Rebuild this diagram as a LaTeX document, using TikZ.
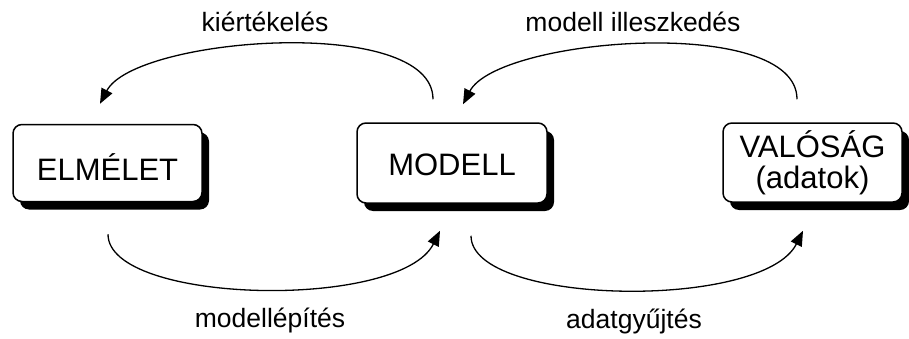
\documentclass[tikz,border=0pt]{standalone}
\usepackage{fontspec}
\setmainfont{Liberation Sans}
\usetikzlibrary{arrows.meta,shadows}

\tikzset{
  box/.style={draw=black, line width=1.5pt, fill=white, rounded corners=9pt,
    inner sep=0pt,
    font=\fontsize{31}{31}\selectfont,
    drop shadow={shadow xshift=7pt, shadow yshift=-8pt, fill=black, opacity=1}},
  flow/.style={line width=1.3pt, -{Triangle[length=15pt,width=12pt]}},
  lbl/.style={font=\fontsize{26.5}{30}\selectfont, anchor=base, inner sep=0pt}
}

\begin{document}
\begin{tikzpicture}[x=1pt, y=1pt]
  \useasboundingbox (0,0) rectangle (909,338);

  % the three stages
  \node[box, minimum width=189pt, minimum height=77pt,
        text height=34pt, text depth=0pt] (E) at (107.5,175) {ELMÉLET};
  \node[box, minimum width=190pt, minimum height=80pt,
        text height=24pt, text depth=0pt] (M) at (452,175) {MODELL};
  \node[box, minimum width=179pt, minimum height=79pt, align=center,
        text height=57.5pt, text depth=6.5pt] (V) at (812.5,175.5)
    {VALÓSÁG\\(adatok)};

  % end points of the cycle arrows
  \coordinate (kiS) at ([shift={(-19,23)}]M.north);
  \coordinate (kiT) at ([shift={(-7.5,20)}]E.north);
  \coordinate (ilS) at ([shift={(-15.5,23)}]V.north);
  \coordinate (ilT) at ([shift={(11,18)}]M.north);
  \coordinate (meS) at ([shift={(0.5,-32)}]E.south);
  \coordinate (meT) at ([shift={(-12,-27)}]M.south);
  \coordinate (adS) at ([shift={(19,-32)}]M.south);
  \coordinate (adT) at ([shift={(-9.5,-28)}]V.south);

  % upper arrows
  \draw[flow] (kiS) .. controls +(0,85) and +(35,67) .. (kiT);
  \draw[flow] (ilS) .. controls +(0,85) and +(35,67) .. (ilT);
  % lower arrows
  \draw[flow] (meS) .. controls +(0,-70) and +(-40,-80) .. (meT);
  \draw[flow] (adS) .. controls +(0,-70) and +(-40,-80) .. (adT);

  % labels
  \node[lbl] (lki) at (265,306) {kiértékelés};
  \node[lbl] (lil) at (633,306) {modell illeszkedés};
  \node[lbl] (lme) at (270,11) {modellépítés};
  \node[lbl] (lad) at (634,10) {adatgyűjtés};
\end{tikzpicture}
\end{document}
